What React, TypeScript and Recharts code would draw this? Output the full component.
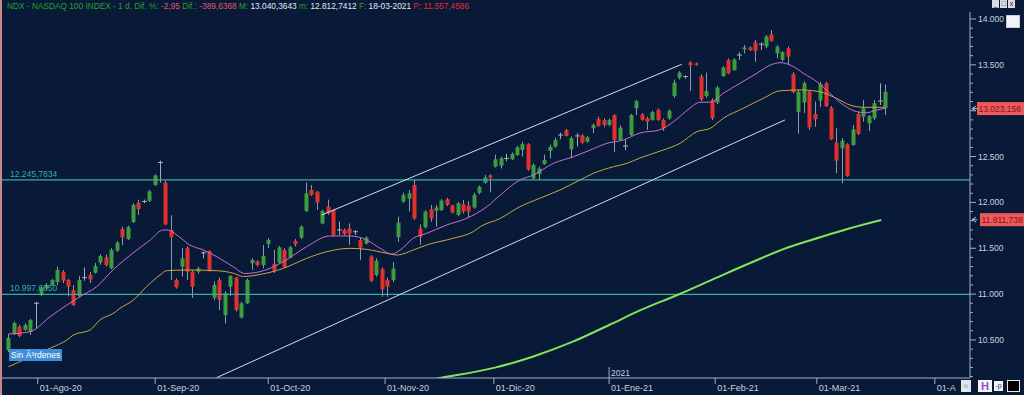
import React from 'react';
import { ComposedChart, Bar, Line, XAxis, YAxis, ReferenceLine } from 'recharts';

// daily NDX candles, 27-Jul-20 .. 18-Mar-21 (index = trading day)
const opens = [
  10390, 10565, 10645, 10609, 10590, 10900, 10995, 11060, 11099, 11132,
  11244, 11154, 11045, 10979, 11180, 11208, 11234, 11343, 11400, 11281,
  11475, 11710, 11600, 11786, 11997, 12010, 12015, 12190, 12435, 12215,
  11700, 11154, 11300, 11500, 11245, 11245, 11450, 11470, 10960, 11154,
  10772, 11081, 11180, 10744, 10900, 11335, 11355, 11317, 11545, 11330,
  11343, 11481, 11400, 11580, 11615, 11905, 12135, 12115, 11770, 11955,
  11917, 11700, 11700, 11715, 11680, 11590, 11550, 11410, 11208, 11275,
  11154, 11154, 11620, 12010, 12040, 12190, 11715, 11730, 11925, 11910,
  11917, 12035, 11965, 11863, 11980, 11965, 11945, 12105, 12215, 12295,
  12390, 12400, 12480, 12470, 12517, 12571, 12633, 12262, 12310, 12418,
  12560, 12608, 12735, 12790, 12580, 12725, 12730, 12663, 12808, 12910,
  12899, 12844, 12953, 12680, 12615, 12735, 13026, 12960, 12917, 12899,
  13008, 12899, 12915, 13160, 13360, 13372, 13525, 13515, 13372, 13160,
  13117, 13088, 13378, 13553, 13444, 13607, 13670, 13690, 13745, 13725,
  13700, 13833, 13625, 13553, 13680, 13400, 12985, 13090, 13207, 12964,
  13110, 13300, 13033, 12651, 12590, 12634, 12626, 12964, 12935, 12862,
  12917, 13105, 13026,
];
const highs = [
  10565, 10700, 10665, 10680, 10730, 10917, 11085, 11120, 11165, 11300,
  11263, 11165, 11099, 11197, 11290, 11240, 11340, 11433, 11430, 11500,
  11580, 11735, 11745, 11990, 12030, 12030, 12135, 12305, 12455, 12240,
  11860, 11170, 11500, 11520, 11263, 11300, 11465, 11480, 11140, 11180,
  11030, 11210, 11190, 10915, 11170, 11390, 11370, 11536, 11610, 11481,
  11525, 11500, 11525, 11600, 11750, 12215, 12190, 12125, 11920, 12030,
  11925, 11790, 11715, 11770, 11700, 11615, 11630, 11426, 11390, 11290,
  11180, 11350, 11845, 12105, 12135, 12250, 11760, 11915, 11972, 11972,
  12035, 12050, 11975, 12005, 12026, 12015, 12105, 12185, 12300, 12305,
  12520, 12500, 12530, 12545, 12615, 12660, 12645, 12425, 12390, 12520,
  12630, 12706, 12760, 12800, 12720, 12755, 12745, 12725, 12862, 12935,
  12917, 12915, 12960, 12840, 12680, 12965, 13117, 12975, 12935, 13000,
  13025, 12915, 13015, 13340, 13430, 13385, 13540, 13525, 13397, 13415,
  13135, 13270, 13487, 13570, 13570, 13637, 13716, 13700, 13771, 13745,
  13825, 13880, 13716, 13650, 13700, 13420, 13230, 13320, 13226, 13100,
  13315, 13315, 13050, 12808, 12702, 12645, 12844, 12989, 13117, 12953,
  13117, 13298, 13287,
];
const lows = [
  10368, 10554, 10530, 10600, 10554, 10630, 10980, 11040, 11090, 11099,
  11120, 10975, 10870, 10965, 11145, 11120, 11225, 11320, 11300, 11270,
  11460, 11535, 11590, 11775, 11863, 11990, 12005, 12180, 12215, 11750,
  11154, 11060, 11190, 11154, 10960, 11225, 11390, 11245, 10935, 10827,
  10680, 10980, 10810, 10735, 10890, 11263, 11300, 11280, 11500, 11230,
  11330, 11280, 11390, 11520, 11600, 11895, 12070, 11917, 11760, 11863,
  11625, 11645, 11640, 11536, 11645, 11372, 11540, 11130, 11190, 10970,
  10970, 11130, 11570, 11995, 11900, 11808, 11536, 11715, 11790, 11735,
  11905, 11960, 11880, 11850, 11880, 11830, 11930, 12090, 12205, 12110,
  12380, 12370, 12450, 12460, 12505, 12500, 12345, 12250, 12245, 12410,
  12480, 12597, 12690, 12720, 12480, 12610, 12640, 12650, 12755, 12825,
  12820, 12830, 12550, 12670, 12570, 12725, 12953, 12890, 12790, 12890,
  12890, 12780, 12900, 13140, 13340, 13350, 13215, 13490, 13105, 13140,
  12899, 13070, 13367, 13400, 13435, 13553, 13625, 13650, 13535, 13662,
  13680, 13752, 13570, 13535, 13498, 13190, 12750, 12975, 12790, 12825,
  13040, 13040, 12680, 12317, 12208, 12280, 12618, 12735, 12880, 12780,
  12899, 13062, 12953,
];
const closes = [
  10522, 10685, 10543, 10663, 10718, 10900, 11070, 11100, 11154, 11263,
  11147, 11081, 10881, 11154, 11180, 11160, 11306, 11415, 11317, 11481,
  11560, 11620, 11730, 11972, 11925, 12010, 12120, 12295, 12435, 11760,
  11620, 11075, 11390, 11245, 11080, 11280, 11450, 11263, 11100, 10936,
  11010, 11197, 10827, 10900, 11154, 11372, 11317, 11415, 11590, 11255,
  11510, 11295, 11510, 11545, 11735, 12100, 12081, 12000, 11907, 11880,
  11645, 11700, 11655, 11660, 11680, 11507, 11615, 11145, 11363, 11052,
  11081, 11280, 11780, 12081, 12100, 11825, 11625, 11900, 11826, 11945,
  12020, 11972, 11890, 11990, 11900, 11900, 12081, 12170, 12270, 12270,
  12470, 12480, 12480, 12530, 12600, 12637, 12360, 12408, 12370, 12462,
  12605, 12680, 12735, 12725, 12700, 12725, 12650, 12710, 12844, 12833,
  12844, 12899, 12680, 12815, 12615, 12953, 13105, 12900, 12880, 12985,
  12899, 12808, 13000, 13306, 13415, 13372, 13495, 13500, 13124, 13215,
  12918, 13252, 13470, 13407, 13560, 13607, 13690, 13662, 13651, 13725,
  13810, 13760, 13698, 13637, 13590, 13200, 13205, 13300, 12820, 12906,
  13290, 13050, 12688, 12455, 12673, 12288, 12797, 12746, 13026, 12942,
  13081, 13105, 13207,
];

// moving averages: [trading-day index, value]
const maFast = [
  [0, 10565], [4, 10590], [7.7, 10754], [10.8, 10881], [13.2, 10972], [16.3, 11081],
  [19.3, 11263], [23, 11448], [26.2, 11590], [28.6, 11699], [29.5, 11699], [31.1, 11645],
  [33.5, 11536], [36, 11481], [38.5, 11408], [41.5, 11299], [43.7, 11225], [46.5, 11245],
  [50.8, 11353], [55.1, 11517], [59.4, 11634], [63.1, 11634], [66.2, 11590], [68.7, 11499],
  [70.8, 11437], [72.4, 11481], [74.8, 11609], [77.3, 11663], [81, 11754], [84.7, 11827],
  [88.4, 11953], [90.9, 12081], [94.5, 12244], [97, 12299], [100.7, 12426], [104.4, 12498],
  [107.5, 12571], [110.6, 12644], [113.6, 12680], [116.7, 12757], [120.3, 12790], [122.9, 12880],
  [125.9, 13026], [127.8, 13092], [129.7, 13092], [132.1, 13190], [135.2, 13299], [138.3, 13408],
  [140.8, 13498], [142.6, 13524], [145.1, 13480], [146.9, 13408], [149.4, 13316], [151.8, 13190],
  [154.3, 13062], [156.8, 12989], [158.6, 12978], [160.5, 13008], [162, 13026],
];
const maSlow = [
  [0, 10208], [2.1, 10263], [7.7, 10410], [10.8, 10500], [12, 10554], [15.1, 10609],
  [16.9, 10718], [19.4, 10791], [20.6, 10845], [23.1, 10936], [25.5, 11081], [28, 11208],
  [29.2, 11255], [32.9, 11263], [38.5, 11255], [41.6, 11227], [43.4, 11192], [46.5, 11214],
  [50.8, 11281], [55.1, 11390], [58.8, 11462], [63.1, 11499], [66.2, 11488], [69.9, 11445],
  [71.8, 11426], [74.8, 11481], [77.3, 11536], [82.2, 11609], [85.9, 11681], [87.2, 11735],
  [90.9, 11826], [94.5, 11953], [98.2, 12045], [101.9, 12135], [105.6, 12244], [108.1, 12317],
  [111.8, 12389], [114.3, 12426], [116.7, 12484], [121, 12571], [124.1, 12644], [127.2, 12771],
  [129.7, 12808], [132.1, 12917], [135.8, 13026], [139.5, 13135], [142.6, 13217], [146.3, 13226],
  [149.9, 13207], [153, 13135], [155.5, 13062], [158, 13037], [162, 13037],
];
const ma200 = [
  [74, 10020], [79.8, 10085], [89.9, 10198], [97, 10320], [104.3, 10481], [111, 10663],
  [117, 10830], [123.6, 10990], [131, 11183], [137.5, 11350], [143.9, 11506], [150, 11620],
  [155.5, 11718], [161.3, 11808],
];

const channelUpper = [[57.9, 11863], [124.4, 13506]];
const channelLower = [[38.5, 10090], [143.5, 12899]];

const levelHigh = 12245.7834;
const levelLow = 10997.605;
const lastPrice = 13023.156;
const ma200Last = 11811.738;

const xTickPos = [5.4, 27.1, 48.0, 69.6, 89.7, 111.0, 130.6, 149.4, 171.2];
const xTickLabels = ['01-Ago-20', '01-Sep-20', '01-Oct-20', '01-Nov-20', '01-Dic-20', '01-Ene-21', '01-Feb-21', '01-Mar-21', '01-A'];
const yTicks = [
  10100, 10200, 10300, 10400, 10500, 10600, 10700, 10800, 10900, 11000,
  11100, 11200, 11300, 11400, 11500, 11600, 11700, 11800, 11900, 12000,
  12100, 12200, 12300, 12400, 12500, 12600, 12700, 12800, 12900, 13000,
  13100, 13200, 13300, 13400, 13500, 13600, 13700, 13800, 13900, 14000,
];

const titleParts = [
  ['NDX - NASDAQ 100 INDEX - 1 d. Dif. %: ', 'lab'], ['-2,95', 'neg'], [' Dif.: ', 'lab'], ['-389,6368', 'neg'],
  [' M: ', 'lab'], ['13.040,3643', 'val'], [' m: ', 'lab'], ['12.812,7412', 'val'],
  [' F: ', 'lab'], ['18-03-2021', 'val'], [' P: ', 'red'], ['11.557,4586', 'red'],
];

const BG = '#081a38';
const AXIS = '#9fb0c8';
const TXT = '#c9d2de';
const UP = '#3d9c3d';
const DOWN = '#e3302d';
const WICK = '#8e98a8';
const TEAL = '#3aaba2';
const FONT = '"Liberation Sans", Arial, sans-serif';

const candles = opens.map((o, k) => ({ i: k, o, h: highs[k], l: lows[k], c: closes[k] }));
const toPts = (arr: number[][]) => arr.map(([i, v]) => ({ i, v }));

const fmtThousands = (v: number) => String(v).replace(/\B(?=(\d{3})+(?!\d))/g, '.');

const Candle = (props: any) => {
  let { x, y, width, height, payload } = props;
  if (height < 0) { y += height; height = -height; }
  const { o, h, l, c } = payload;
  if (!(h > l)) return null;
  const k = height / (h - l);
  const cx = Math.round(x + width / 2) + 0.5;
  const top = y + (h - Math.max(o, c)) * k;
  const bot = y + (h - Math.min(o, c)) * k;
  if (c === o) {
    return (
      <g>
        <line x1={cx} x2={cx} y1={y} y2={y + height} stroke="#a3acbb" />
        <line x1={cx - 2.5} x2={cx + 2.5} y1={top} y2={top} stroke="#a3acbb" />
      </g>
    );
  }
  return (
    <g>
      <line x1={cx} x2={cx} y1={y} y2={y + height} stroke={WICK} />
      <rect x={cx - 2} y={top} width={4} height={Math.max(1, bot - top)} fill={c > o ? UP : DOWN} />
    </g>
  );
};

const XTick = (props: any) => {
  const { x, y, payload } = props;
  const label = xTickLabels[xTickPos.indexOf(payload.value)];
  return (
    <g>
      <line x1={x} x2={x} y1={y} y2={y + 6} stroke={AXIS} />
      {label === '01-Ene-21' && (
        <g>
          <line x1={x} x2={x} y1={y - 11} y2={y} stroke={AXIS} />
          <text x={x + 2} y={y - 2} fontSize={8.5} fill={TXT}>2021</text>
        </g>
      )}
      <text x={x + 2} y={y + 13} fontSize={9} fill={TXT}>{label}</text>
    </g>
  );
};

// the last-price tag sits over the 13.000 label in the reference
const YTick = (props: any) => {
  const { x, y, payload } = props;
  const v = payload.value;
  const major = v % 500 === 0;
  const hidden = Math.abs(v - lastPrice) < 60;
  return (
    <g>
      <line x1={x} x2={x + (major ? 6 : 3)} y1={y} y2={y} stroke={AXIS} />
      {major && !hidden && <text x={x + 8} y={y + 3} fontSize={8.5} fill={TXT}>{fmtThousands(v)}</text>}
    </g>
  );
};

const levelLabel = (text: string) => (p: any) => (
  <text x={p.viewBox.x + 9} y={p.viewBox.y - 3} fontSize={8.5} fill={TEAL}>{text}</text>
);

const priceTag = (text: string, dx: number) => (p: any) => {
  const ax = p.viewBox.x + p.viewBox.width;
  const cy = p.viewBox.y;
  return (
    <g>
      <path d={`M${ax + 2},${cy} l4,-2.5 M${ax + 2},${cy} l4,2.5 M${ax + 2},${cy} h5`} stroke="#b9c2cf" fill="none" />
      <rect x={ax + dx} y={cy - 6.5} width={60} height={13} fill="#ee5a5a" />
      <text x={ax + dx + 1.5} y={cy + 3} fontSize={8.5} fill="#7d1414">{text}</text>
    </g>
  );
};

const colorOf: Record<string, string> = { lab: '#27a02a', neg: '#e0566c', val: '#e6e9ee', red: '#e42a2a' };

export default function App() {
  return (
    <div style={{ position: 'absolute', left: 0, top: 0, width: 1024, height: 395, background: BG, fontFamily: FONT, overflow: 'hidden' }}>
      <ComposedChart
        width={1024}
        height={395}
        data={candles}
        margin={{ top: 12, right: 0, bottom: 0, left: 1 }}
      >
        <XAxis
          type="number"
          dataKey="i"
          domain={[-1.386, 177.7]}
          allowDataOverflow
          ticks={xTickPos}
          interval={0}
          height={17}
          tickSize={0}
          tickMargin={0}
          tick={<XTick />}
          axisLine={{ stroke: AXIS }}
          tickLine={false}
        />
        <YAxis
          orientation="right"
          width={54}
          domain={[10085.1, 14076.3]}
          allowDataOverflow
          ticks={yTicks}
          interval={0}
          tickSize={0}
          tickMargin={0}
          tick={<YTick />}
          axisLine={{ stroke: AXIS }}
          tickLine={false}
        />

        <ReferenceLine y={levelHigh} stroke={TEAL} strokeWidth={1.3} label={levelLabel('12.245,7834')} />
        <ReferenceLine y={levelLow} stroke={TEAL} strokeWidth={1.3} label={levelLabel('10.997,6050')} />

        <ReferenceLine
          segment={channelUpper.map(([i, v]) => ({ x: i, y: v }))}
          stroke="#d6dce5"
          strokeWidth={1}
        />
        <ReferenceLine
          segment={channelLower.map(([i, v]) => ({ x: i, y: v }))}
          stroke="#d6dce5"
          strokeWidth={1}
        />

        <Bar
          dataKey={(d: any) => [d.l, d.h]}
          barSize={4}
          shape={(p: any) => <Candle {...p} />}
          isAnimationActive={false}
        />

        <Line data={toPts(ma200)} dataKey="v" type="monotone" stroke="#84e35a" strokeWidth={2} dot={false} isAnimationActive={false} />
        <Line data={toPts(maSlow)} dataKey="v" type="monotone" stroke="#c9a646" strokeWidth={1} dot={false} isAnimationActive={false} />
        <Line data={toPts(maFast)} dataKey="v" type="monotone" stroke="#c96fd6" strokeWidth={1} dot={false} isAnimationActive={false} />

        <ReferenceLine y={lastPrice} stroke="none" label={priceTag('13.023,156', 7)} />
        <ReferenceLine y={ma200Last} stroke="none" label={priceTag('11.811,738', 10)} />
      </ComposedChart>

      {/* header line */}
      <div style={{ position: 'absolute', left: 7, top: 1, fontSize: 8.3, lineHeight: '10px', whiteSpace: 'pre' }}>
        {titleParts.map(([t, k], n) => (
          <span key={n} style={{ color: colorOf[k] }}>{t}</span>
        ))}
      </div>

      {/* left frame edge */}
      <div style={{ position: 'absolute', left: 0, top: 0, width: 2, height: 395, background: '#c98a86' }} />

      {/* window buttons */}
      <div style={{ position: 'absolute', left: 992, top: 0, display: 'flex', gap: 1 }}>
        {['_', '□', 'x'].map((g) => (
          <div key={g} style={{ width: 7, height: 8, background: '#d9dde3', color: '#222', fontSize: 7, lineHeight: '8px', textAlign: 'center' }}>{g}</div>
        ))}
      </div>
      <div style={{ position: 'absolute', left: 1006, top: 15, width: 14, height: 13, background: '#f2f4f7', border: '1px solid #c5ccd6', boxSizing: 'border-box' }} />

      {/* bottom-right toolbar */}
      <div style={{ position: 'absolute', left: 960, top: 380, width: 64, height: 15, background: BG }}>
        <div style={{ position: 'absolute', left: 1, top: 0, width: 10, height: 12, background: '#dfe6ee', color: '#7b8fb5', fontSize: 9, lineHeight: '12px', textAlign: 'center' }}>≈</div>
        <div style={{ position: 'absolute', left: 18, top: 0, width: 14, height: 12, background: '#f4f4f8', color: '#8a4fd0', fontSize: 11, fontWeight: 700, lineHeight: '12px', textAlign: 'center' }}>H</div>
        <div style={{ position: 'absolute', left: 34, top: 1, width: 9, height: 10, background: '#f4f4f8', color: '#333', fontSize: 7, lineHeight: '10px', textAlign: 'center' }}>-p</div>
        <div style={{ position: 'absolute', left: 47, top: 0, width: 13, height: 12, background: '#000', border: '1px solid #e8e8e8', boxSizing: 'border-box' }} />
      </div>

      {/* order status badge */}
      <div style={{ position: 'absolute', left: 9, top: 349, height: 12, background: '#3d8fd8', color: '#fff', fontSize: 8.5, lineHeight: '12px', padding: '0 2px', whiteSpace: 'nowrap' }}>Sin Ã³rdenes</div>
    </div>
  );
}
